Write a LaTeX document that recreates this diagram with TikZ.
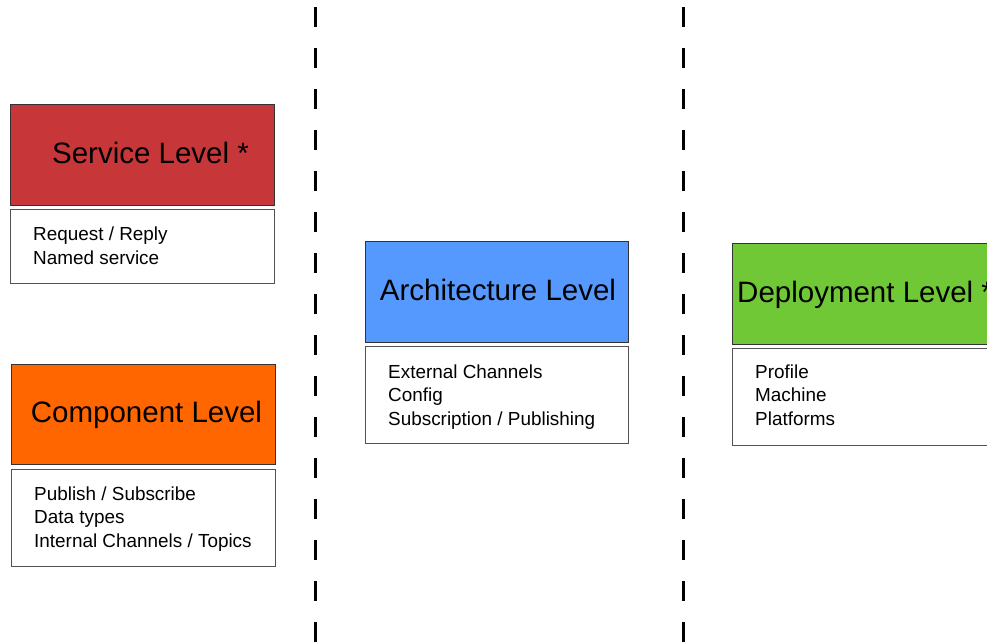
\documentclass[tikz,border=0pt]{standalone}
\usepackage{fontspec}
\setmainfont{Liberation Sans}
\definecolor{svcred}{HTML}{C7373A}
\definecolor{cmporange}{HTML}{FF6600}
\definecolor{archblue}{HTML}{5599FF}
\definecolor{depgreen}{HTML}{71C837}
\definecolor{edge}{HTML}{333333}
\tikzset{
  head/.style={draw=edge, line width=1pt, rectangle, inner sep=0pt},
  listbox/.style={draw=edge!85, fill=white, line width=1pt, rectangle, inner sep=0pt},
  headtext/.style={font=\fontsize{29.5}{34}\selectfont, inner sep=0pt, anchor=base},
  listtext/.style={font=\fontsize{18.9}{23.5}\selectfont, inner sep=0pt, anchor=base west, align=left},
  divider/.style={line width=3pt, dash pattern=on 20pt off 21pt}
}
\begin{document}
\begin{tikzpicture}[x=1pt, y=-1pt]
  \useasboundingbox (0,0) rectangle (987,642);
  \clip (0,0) rectangle (987,642);
  \fill[white] (0,0) rectangle (987,642);

  % dashed separators between the columns
  \coordinate (d1top) at (315,7);
  \coordinate (d1bot) at (315,642);
  \coordinate (d2top) at (683,7);
  \coordinate (d2bot) at (683,642);
  \draw[divider] (d1top) -- (d1bot);
  \draw[divider] (d2top) -- (d2bot);

  % service level (list positions give the baseline of the last line)
  \node[head, fill=svcred, minimum width=264pt, minimum height=101pt] (svc) at (142,154.5) {};
  \node[headtext] (svct) at (150.5,163) {Service Level *};
  \node[listbox, minimum width=264pt, minimum height=74pt] (svcl) at (142,246) {};
  \node[listtext] (svclt) at (33,264) {Request / Reply\\Named service};

  % component level
  \node[head, fill=cmporange, minimum width=264pt, minimum height=100pt] (cmp) at (143,414) {};
  \node[headtext] (cmpt) at (146.5,422) {Component Level};
  \node[listbox, minimum width=264pt, minimum height=97pt] (cmpl) at (143,517.5) {};
  \node[listtext] (cmplt) at (34,547) {Publish / Subscribe\\Data types\\Internal Channels / Topics};

  % architecture level
  \node[head, fill=archblue, minimum width=263pt, minimum height=101pt] (arch) at (496.5,291.5) {};
  \node[headtext] (archt) at (498,300.5) {Architecture Level};
  \node[listbox, minimum width=263pt, minimum height=97pt] (archl) at (496.5,394.5) {};
  \node[listtext] (archlt) at (388,425) {External Channels\\Config\\Subscription / Publishing};

  % deployment level
  \node[head, fill=depgreen, minimum width=264pt, minimum height=101pt] (dep) at (864,293.5) {};
  \node[headtext, anchor=base west] (dept) at (737,302.5) {Deployment Level *};
  \node[listbox, minimum width=264pt, minimum height=97pt] (depl) at (864,396.5) {};
  \node[listtext] (deplt) at (755,425) {Profile\\Machine\\Platforms};
\end{tikzpicture}
\end{document}
